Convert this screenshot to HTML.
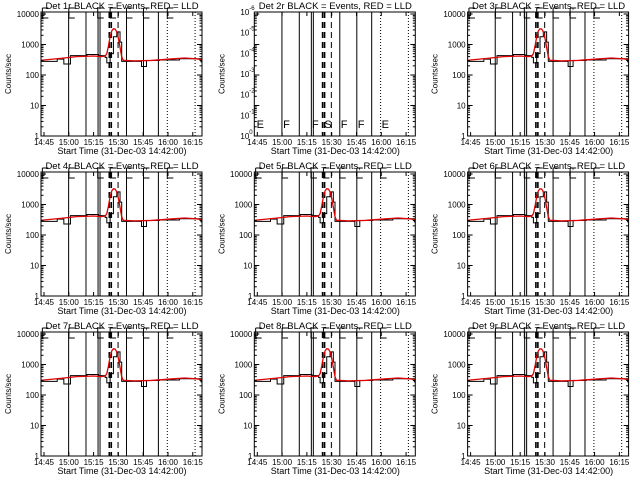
<!DOCTYPE html>
<html><head><meta charset="utf-8"><style>
html,body{margin:0;padding:0;background:#fff}
svg{display:block}
text{font-family:"Liberation Sans",sans-serif;fill:#000}
</style></head><body>
<svg id="c" width="640" height="480" viewBox="0 0 640 480"></svg>
<script>
// minutes since 14:45
const tickLabels = ["14:45","15:00","15:15","15:30","15:45","16:00","16:15"];
const tickMinutes = [0,15,30,45,60,75,90];
const redTimes = [-2,0,10,20,30,35,37,38,39,40,41,42,43,44,45,46,47,48,50,55,65,75,85,92,100,104];
const redValues = [300,310,350,400,420,400,420,500,900,1800,2800,3300,3200,2600,1600,800,400,300,300,290,300,330,360,340,290,270];
const blackTimes = [-2,8,12,16,26,33,37,38,40,42,44,46,47,56,59,62,70,82,95,104];
const blackValues = [280,330,230,430,470,430,380,250,500,1800,2600,1200,280,280,190,300,310,340,270,260];
const solidLines = [14.9,25.4,32.7,33.9,49.9,60.2,69.2];
const dottedLines = [74.6,91.4];
const dashedLines = [39.5,40.7,44.8];
const markerTimes = [-1,15,32.5,40,49.9,60.2,74.6];
const markerLetters = ["E","F","F","S","F","F","E"];
const panelNames = ["1r","2r","3r","4r","5r","6r","7r","8r","9r"];

const NS="http://www.w3.org/2000/svg";
const svg=document.getElementById('c');
function mk(tag,attrs,parent){const e=document.createElementNS(NS,tag);for(const k in attrs)e.setAttribute(k,attrs[k]);(parent||svg).appendChild(e);return e;}
const L=41,R=202,T=12,B=136,DEC=30.5;
function xs(m){return 44+m*1.653;}
function ys(v){return B-Math.log10(v)*DEC;}

panelNames.forEach((nm,i)=>{
  const col=i%3,row=Math.floor(i/3);
  const g=mk('g',{transform:`translate(${col*213.3},${row*160})`});
  
  
  const t=mk('text',{x:122,y:9,'font-size':9.5,'text-anchor':'middle'},g);
  t.textContent=`Det ${nm} BLACK = Events, RED = LLD`;
  
  
  const clip='cl'+i;
  const cp=mk('clipPath',{id:clip},g);mk('rect',{x:L,y:T,width:R-L,height:B-T},cp);
  const pg=mk('g',{'clip-path':`url(#${clip})`},g);
  solidLines.forEach(m=>{const l=mk('line',{x1:xs(m),x2:xs(m),y1:T,y2:B,stroke:'#000','stroke-width':1},pg);
    
    });
  dottedLines.forEach(m=>{const l=mk('line',{x1:xs(m),x2:xs(m),y1:T,y2:B,stroke:'#000','stroke-width':1,'stroke-dasharray':'1,2'},pg);
    
    });
  dashedLines.forEach((m,j)=>{const l=mk('line',{x1:xs(m),x2:xs(m),y1:T,y2:B,stroke:'#000','stroke-width':j<2?1.6:1,'stroke-dasharray':'6,4'},pg);
    
    });
  if(nm==="2r"){
    markerTimes.forEach((m,j)=>{const tx=mk('text',{x:xs(m)+1,y:B-8,'font-size':11},g);tx.textContent=markerLetters[j];
      
      });
  } else {
    markerTimes.forEach(m=>{const p=mk('path',{d:`M${xs(m)},${T-4}h6M${xs(m)},${T-4}v10h6`,fill:'none',stroke:'#000','stroke-width':1},g);
      
      });
    let d='';
    blackTimes.forEach((m,j)=>{const x=xs(m),y=ys(blackValues[j]);
      if(j===0)d+=`M${x},${y}`;else d+=`H${x}V${y}`;});
    d+=`H${R}`;
    const bp=mk('path',{d,fill:'none',stroke:'#000','stroke-width':1},pg);
    
    
    const rp=mk('polyline',{points:redTimes.map((m,j)=>xs(m)+','+ys(redValues[j])).join(' '),fill:'none',stroke:'#e00000','stroke-width':1.3},pg);
    
    
  }
  const fr=mk('rect',{x:L,y:T,width:R-L,height:B-T,fill:'none',stroke:'#000','stroke-width':1},g);
  
  
  tickMinutes.forEach((m,j)=>{
    mk('line',{x1:xs(m),x2:xs(m),y1:B,y2:B-4,stroke:'#000'},g);
    mk('line',{x1:xs(m),x2:xs(m),y1:T,y2:T+4,stroke:'#000'},g);
    const tx=mk('text',{x:xs(m),y:B+9,'font-size':8,'text-anchor':'middle'},g);tx.textContent=tickLabels[j];
    
    
  });
  const xt=mk('text',{x:122,y:B+18,'font-size':9,'text-anchor':'middle'},g);xt.textContent='Start Time (31-Dec-03 14:42:00)';
  
  
  const yt=mk('text',{x:0,y:0,'font-size':8,'text-anchor':'middle',transform:`translate(11,${(T+B)/2}) rotate(-90)`},g);yt.textContent='Counts/sec';
  
  
  for(let dcd=0;dcd<=4;dcd++){
    const y=B-dcd*DEC;
    mk('line',{x1:L,x2:L+5,y1:y,y2:y,stroke:'#000'},g);
    mk('line',{x1:R,x2:R-5,y1:y,y2:y,stroke:'#000'},g);
    for(let k=2;k<10&&dcd<4;k++){const yy=y-Math.log10(k)*DEC;
      mk('line',{x1:L,x2:L+2.5,y1:yy,y2:yy,stroke:'#000'},g);
      mk('line',{x1:R,x2:R-2.5,y1:yy,y2:yy,stroke:'#000'},g);}
  }
  if(nm==="2r"){
    for(let k=0;k<=6;k++){const y=B-k*(B-T)/6;
      const tx=mk('text',{x:L-5,y:y+3,'font-size':8,'text-anchor':'end'},g);
      tx.textContent='10';
      
      
      const s=mk('text',{x:L-5,y:y-2,'font-size':6},g);s.textContent=k===0?'0':'-'+k;}
  } else {
    ['1','10','100','1000','10000'].forEach((lb,dcd)=>{
      const tx=mk('text',{x:L-2,y:B-dcd*DEC+3,'font-size':8,'text-anchor':'end'},g);tx.textContent=lb;
      
      });
  }
});
</script>
</body></html>
